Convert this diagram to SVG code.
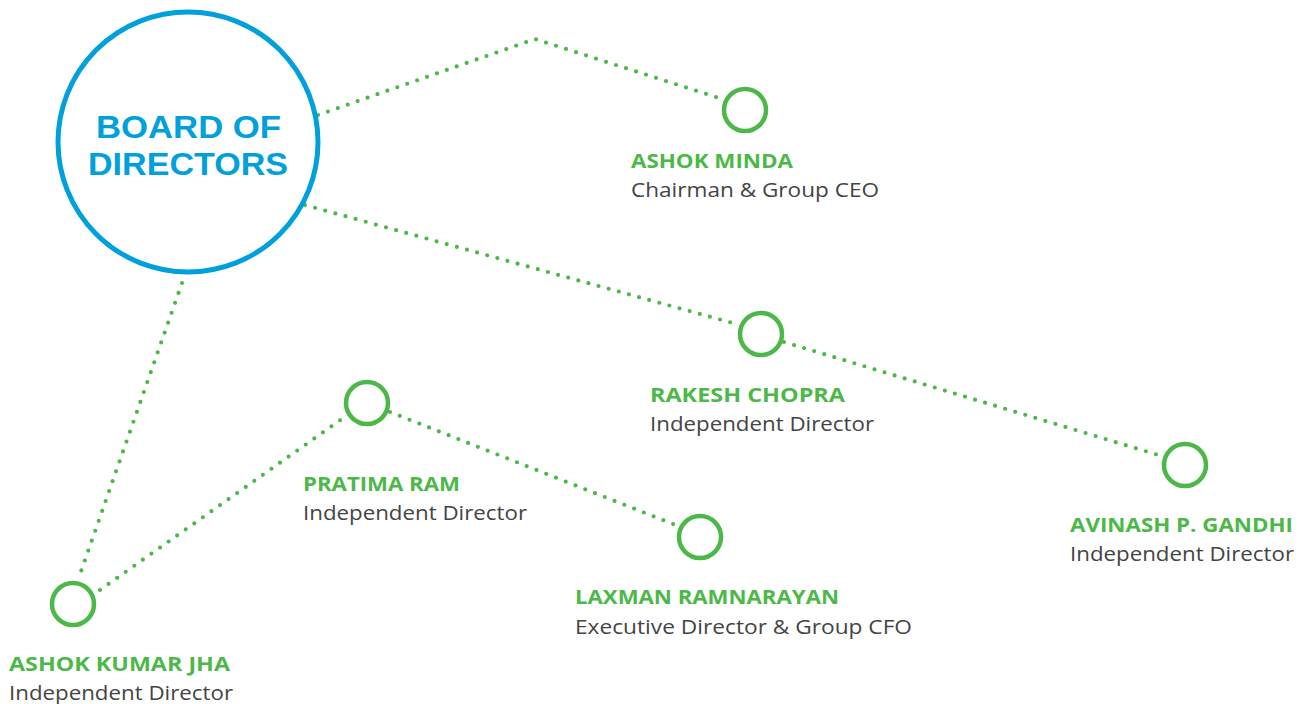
<svg xmlns="http://www.w3.org/2000/svg" width="1309" height="704" viewBox="0 0 1309 704">
<style>
.conn{fill:none;stroke:#4cb848;stroke-width:4.2;stroke-linecap:round;stroke-dasharray:0 10.5}
.node{fill:none;stroke:#4cb848;stroke-width:4.5}
.name{font-family:"Open Sans","Liberation Sans",sans-serif;font-weight:700;font-size:20px;fill:#4cb848}
.role{font-family:"Open Sans","Liberation Sans",sans-serif;font-weight:400;font-size:20.5px;fill:#444444}
.board{font-family:"Liberation Sans","Open Sans",sans-serif;font-weight:700;font-size:31px;fill:#00a0dc}
</style>
<rect width="1309" height="704" fill="#ffffff"/>
<g id="connectors">
<path class="conn" d="M318 115 L535 39 L722 99"/>
<path class="conn" d="M305 205 L740 325"/>
<path class="conn" d="M784 342 L1165 457"/>
<path class="conn" d="M182 283 L78 580"/>
<path class="conn" d="M100 590 L346 416"/>
<path class="conn" d="M390 412 L678 526"/>
</g>
<g id="board">
<circle cx="188" cy="142" r="130" fill="#ffffff" stroke="#00a0dc" stroke-width="5"/>
<text class="board" x="96" y="138" textLength="185" lengthAdjust="spacingAndGlyphs">BOARD OF</text>
<text class="board" x="88" y="175" textLength="200" lengthAdjust="spacingAndGlyphs">DIRECTORS</text>
</g>
<g id="ashok-minda">
<circle class="node" cx="745" cy="110" r="21"/>
<text class="name" x="631" y="168" textLength="162" lengthAdjust="spacingAndGlyphs">ASHOK MINDA</text>
<text class="role" x="631" y="197" textLength="248" lengthAdjust="spacingAndGlyphs">Chairman &amp; Group CEO</text>
</g>
<g id="rakesh-chopra">
<circle class="node" cx="761" cy="334" r="21"/>
<text class="name" x="650" y="402" textLength="195" lengthAdjust="spacingAndGlyphs">RAKESH CHOPRA</text>
<text class="role" x="650" y="431" textLength="224" lengthAdjust="spacingAndGlyphs">Independent Director</text>
</g>
<g id="avinash-gandhi">
<circle class="node" cx="1185" cy="465" r="21"/>
<text class="name" x="1070" y="532" textLength="223" lengthAdjust="spacingAndGlyphs">AVINASH P. GANDHI</text>
<text class="role" x="1070" y="561" textLength="224" lengthAdjust="spacingAndGlyphs">Independent Director</text>
</g>
<g id="pratima-ram">
<circle class="node" cx="367" cy="403" r="21"/>
<text class="name" x="303" y="491" textLength="157" lengthAdjust="spacingAndGlyphs">PRATIMA RAM</text>
<text class="role" x="303" y="520" textLength="224" lengthAdjust="spacingAndGlyphs">Independent Director</text>
</g>
<g id="laxman-ramnarayan">
<circle class="node" cx="700" cy="537" r="21"/>
<text class="name" x="575" y="604" textLength="264" lengthAdjust="spacingAndGlyphs">LAXMAN RAMNARAYAN</text>
<text class="role" x="575" y="634" textLength="337" lengthAdjust="spacingAndGlyphs">Executive Director &amp; Group CFO</text>
</g>
<g id="ashok-kumar-jha">
<circle class="node" cx="73" cy="604" r="21"/>
<text class="name" x="9" y="671" textLength="221" lengthAdjust="spacingAndGlyphs">ASHOK KUMAR JHA</text>
<text class="role" x="9" y="700" textLength="224" lengthAdjust="spacingAndGlyphs">Independent Director</text>
</g>
</svg>
